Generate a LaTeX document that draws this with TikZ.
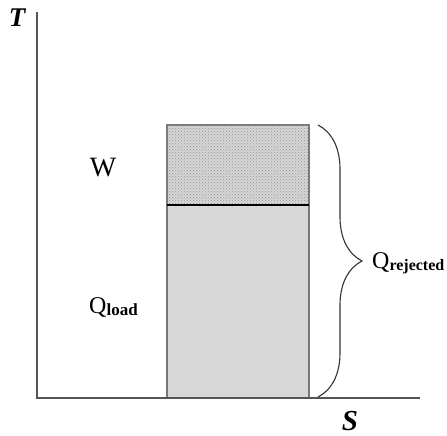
\documentclass[tikz,border=0pt]{standalone}
\usepackage{fontspec}
\setmainfont{Liberation Serif}
\usetikzlibrary{positioning,decorations.pathreplacing,patterns}
\definecolor{axgray}{RGB}{85,85,85}
\definecolor{boxgray}{RGB}{120,120,120}
\definecolor{loadfill}{RGB}{216,216,216}
\definecolor{workfill}{RGB}{214,214,214}
\definecolor{dotgray}{RGB}{150,150,150}
\newcommand{\fsz}[1]{\fontsize{#1}{#1}\selectfont}
\newcommand{\qsub}[2]{{\fsz{24}Q}\raisebox{-2pt}{\fsz{#1}\bfseries #2}}
\tikzset{
  axis/.style={draw=axgray, line width=1.8pt},
  loadbox/.style={fill=loadfill, draw=boxgray, line width=1.4pt},
  workbox/.style={fill=workfill, postaction={pattern=crosshatch dots, pattern color=dotgray},
                  draw=boxgray, line width=1.4pt},
  split/.style={draw=black, line width=1.3pt},
  axlab/.style={font=\fsz{27}\bfseries\itshape, inner sep=0pt},
  qlab/.style={inner sep=0pt, anchor=base west},
  rejbrace/.style={decorate, decoration={brace, amplitude=44pt}, line width=1.1pt, black!80},
}
\begin{document}
\begin{tikzpicture}[x=1pt, y=-1pt]
  \useasboundingbox (0,0) rectangle (447,436);
  % corners of the diagram
  \coordinate (o) at (37,398);
  \coordinate (ttop) at (37,12);
  \coordinate (send) at (420,398);
  \coordinate (bl) at (167,398);
  \coordinate (mr) at (309,205);
  \coordinate (ml) at (167,205);
  \coordinate (tr) at (309,125);
  \coordinate (btop) at (318,125);
  \coordinate (bbot) at (318,397);
  % areas
  \draw[loadbox] (bl) rectangle (mr);
  \draw[workbox] (ml) rectangle (tr);
  \draw[split] (ml) -- (mr);
  % axes
  \draw[axis] (ttop) -- (o) -- (send);
  \node[axlab] (tlab) at (17,18) {T};
  \node[axlab, font=\fsz{29}\bfseries\itshape] (slab) at (350,421) {S};
  % labels
  \node[inner sep=0pt, font=\fsz{28}] (wlab) at (103,168) {W};
  \node[qlab] (qload) at (89,313) {\qsub{17}{load}};
  \draw[rejbrace] (btop) -- (bbot);
  \node[qlab] (qrej) at (372,268) {\qsub{16}{rejected}};
\end{tikzpicture}
\end{document}
